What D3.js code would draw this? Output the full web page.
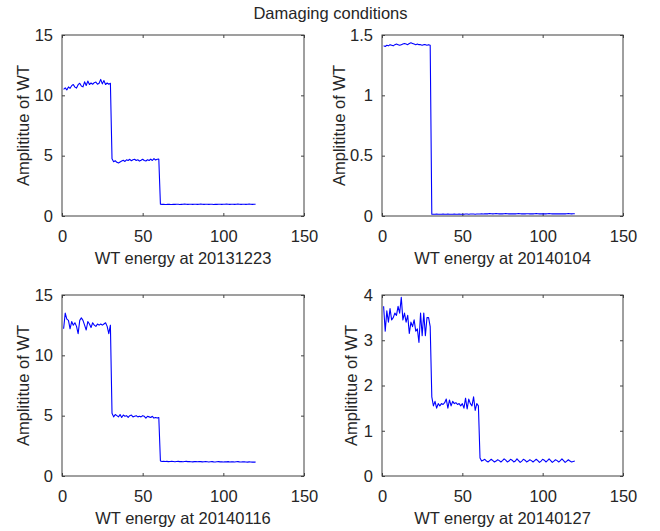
<!DOCTYPE html>
<html><head><meta charset="utf-8">
<script src="https://cdn.jsdelivr.net/npm/d3@7"></script>
<style>
html,body{margin:0;padding:0;background:#fff;}
text{font-family:"Liberation Sans",Arial,Helvetica,sans-serif;fill:#262626;}
</style></head>
<body><svg id="chart" width="660" height="531"></svg>
<script>
const title = "Damaging conditions";
const xTicks = [0, 50, 100, 150];
const xDomain = [0, 150];
const yLabel = "Amplititue of WT";
const xLabels = ["WT energy at 20131223", "WT energy at 20140104", "WT energy at 20140116", "WT energy at 20140127"];
const yTicksA = [0, 5, 10, 15], yTickLabelsA = ["0", "5", "10", "15"];
const yTicksB = [0, 0.5, 1, 1.5], yTickLabelsB = ["0", "0.5", "1", "1.5"];
const yTicksC = [0, 5, 10, 15], yTickLabelsC = ["0", "5", "10", "15"];
const yTicksD = [0, 1, 2, 3, 4], yTickLabelsD = ["0", "1", "2", "3", "4"];

const seriesA = [
 10.5,10.62,10.45,10.7,10.58,10.8,10.9,10.68,10.6,10.88,
 11.0,10.78,10.7,11.12,10.82,11.18,10.9,11.02,10.92,11.05,
 11.1,10.92,11.0,11.32,10.95,11.22,10.9,11.02,10.92,11.0,
 4.75,4.5,4.58,4.45,4.4,4.48,4.55,4.62,4.52,4.66,
 4.6,4.7,4.58,4.66,4.7,4.6,4.66,4.55,4.62,4.7,
 4.6,4.56,4.66,4.6,4.72,4.6,4.76,4.64,4.7,4.72,
 0.98,0.96,0.97,0.95,0.96,0.98,0.96,0.95,0.97,0.96,
 0.98,0.97,0.95,0.96,0.97,0.99,0.97,0.96,0.98,0.97,
 0.96,0.97,0.98,0.96,0.97,0.99,0.97,0.96,0.98,0.97,
 0.96,0.98,0.97,0.95,0.97,0.96,0.98,0.97,0.96,0.98,
 0.97,0.99,0.97,0.96,0.98,0.97,0.96,0.97,0.99,0.97,
 0.96,0.98,0.97,0.96,0.98,0.99,0.97,0.96,0.98,0.97];
const seriesB = [
 1.41,1.405,1.415,1.41,1.42,1.415,1.41,1.42,1.425,1.42,
 1.415,1.42,1.425,1.43,1.425,1.42,1.43,1.435,1.43,1.425,
 1.42,1.425,1.42,1.42,1.415,1.42,1.42,1.415,1.42,1.415,
 0.015,0.014,0.015,0.016,0.015,0.014,0.015,0.016,0.015,0.015,
 0.016,0.015,0.014,0.015,0.016,0.015,0.015,0.016,0.015,0.014,
 0.015,0.016,0.016,0.015,0.016,0.017,0.016,0.015,0.016,0.016,
 0.017,0.018,0.017,0.018,0.019,0.018,0.02,0.019,0.018,0.019,
 0.02,0.019,0.018,0.019,0.018,0.019,0.02,0.019,0.018,0.019,
 0.018,0.019,0.018,0.019,0.02,0.019,0.018,0.019,0.018,0.019,
 0.019,0.018,0.019,0.018,0.019,0.02,0.019,0.018,0.019,0.018,
 0.019,0.018,0.019,0.02,0.019,0.018,0.019,0.018,0.019,0.018,
 0.019,0.018,0.019,0.018,0.019,0.02,0.019,0.018,0.019,0.019];
const seriesC = [
 12.2,13.5,13.0,12.9,12.2,12.8,12.5,12.7,12.4,11.8,
 12.9,13.1,12.9,12.5,12.1,12.8,12.6,12.3,12.7,12.5,
 12.4,12.6,12.5,12.6,12.5,12.6,12.7,12.4,11.8,12.5,
 5.2,4.9,5.1,5.0,4.9,5.1,4.85,5.05,4.95,5.0,
 4.85,5.0,5.05,4.9,4.95,5.0,4.9,4.95,4.9,5.0,
 4.95,4.8,4.95,4.9,4.85,4.95,4.8,4.85,4.8,4.85,
 1.25,1.2,1.22,1.2,1.21,1.19,1.2,1.22,1.2,1.18,
 1.2,1.21,1.19,1.2,1.18,1.2,1.21,1.19,1.2,1.18,
 1.17,1.19,1.2,1.18,1.2,1.19,1.17,1.18,1.2,1.18,
 1.16,1.18,1.19,1.17,1.16,1.18,1.19,1.17,1.18,1.16,
 1.18,1.17,1.19,1.16,1.18,1.17,1.16,1.18,1.19,1.17,
 1.16,1.17,1.18,1.16,1.15,1.17,1.16,1.15,1.16,1.15];
const seriesD = [
 3.75,3.2,3.65,3.4,3.7,3.45,3.5,3.6,3.55,3.75,
 3.6,3.95,3.45,3.6,3.4,3.55,3.15,3.4,3.3,3.45,
 3.2,3.25,2.95,3.6,3.1,3.6,3.1,3.5,3.5,3.3,
 1.75,1.55,1.65,1.5,1.6,1.55,1.6,1.58,1.62,1.7,
 1.5,1.68,1.55,1.65,1.6,1.62,1.58,1.6,1.55,1.6,
 1.5,1.72,1.48,1.7,1.6,1.55,1.75,1.45,1.6,1.55,
 0.4,0.33,0.35,0.37,0.33,0.31,0.34,0.37,0.34,0.31,
 0.33,0.36,0.34,0.31,0.34,0.38,0.35,0.31,0.33,0.37,
 0.35,0.31,0.33,0.38,0.34,0.3,0.33,0.37,0.35,0.31,
 0.33,0.36,0.34,0.31,0.34,0.37,0.34,0.3,0.33,0.37,
 0.35,0.31,0.34,0.38,0.34,0.3,0.33,0.36,0.34,0.31,
 0.34,0.38,0.34,0.3,0.33,0.36,0.33,0.31,0.32,0.33];

const panels = [
  {series: seriesA, ticks: yTicksA, labels: yTickLabelsA, xl: xLabels[0], box: [62, 35, 304, 216], ylx: 28.5},
  {series: seriesB, ticks: yTicksB, labels: yTickLabelsB, xl: xLabels[1], box: [382, 35, 623, 216], ylx: 345},
  {series: seriesC, ticks: yTicksC, labels: yTickLabelsC, xl: xLabels[2], box: [62, 295, 304, 476], ylx: 28.5},
  {series: seriesD, ticks: yTicksD, labels: yTickLabelsD, xl: xLabels[3], box: [382, 295, 623, 476], ylx: 357}
];

const svg = d3.select("#chart");
const FS = 16.5;
const axisColor = "#404040";

svg.append("text").attr("x", 330.5).attr("y", 19).attr("text-anchor", "middle")
  .style("font-size", FS + "px").text(title);

panels.forEach(p => {
  const [l, t, r, b] = p.box;
  const x = d3.scaleLinear().domain(xDomain).range([l, r]);
  const yMax = p.ticks[p.ticks.length - 1];
  const y = d3.scaleLinear().domain([0, yMax]).range([b, t]);
  const g = svg.append("g");

  // x axis bottom (labels) and top (ticks only)
  const gxb = g.append("g").attr("transform", `translate(0,${b})`)
    .call(d3.axisBottom(x).tickValues(xTicks).tickFormat(d3.format("d")).tickSizeInner(-3).tickSizeOuter(0).tickPadding(14));
  const gxt = g.append("g").attr("transform", `translate(0,${t})`)
    .call(d3.axisTop(x).tickValues(xTicks).tickFormat("").tickSizeInner(-3).tickSizeOuter(0));
  const gyl = g.append("g").attr("transform", `translate(${l},0)`)
    .call(d3.axisLeft(y).tickValues(p.ticks).tickFormat((d, i) => p.labels[i]).tickSizeInner(-3).tickSizeOuter(0).tickPadding(9));
  const gyr = g.append("g").attr("transform", `translate(${r},0)`)
    .call(d3.axisRight(y).tickValues(p.ticks).tickFormat("").tickSizeInner(-3).tickSizeOuter(0));
  [gxb, gxt, gyl, gyr].forEach(a => {
    a.select(".domain").remove();
    a.selectAll(".tick line").attr("stroke", axisColor).attr("stroke-width", 1);
    a.selectAll(".tick text").style("font-size", FS + "px").attr("fill", "#262626")
      .style("font-family", '"Liberation Sans",Arial,sans-serif');
  });

  // data line
  const line = d3.line().x((d, i) => x(i + 1)).y(d => y(d));
  g.append("path").datum(p.series).attr("d", line)
    .attr("fill", "none").attr("stroke", "#0000ff").attr("stroke-width", 1.1)
    .attr("stroke-linejoin", "round");

  // box
  g.append("rect").attr("x", l).attr("y", t).attr("width", r - l).attr("height", b - t)
    .attr("fill", "none").attr("stroke", axisColor).attr("stroke-width", 1);

  // labels
  g.append("text").attr("x", (l + r) / 2).attr("y", b + 48).attr("text-anchor", "middle")
    .style("font-size", FS + "px").text(p.xl);
  g.append("text").attr("transform", `translate(${p.ylx},${(t + b) / 2}) rotate(-90)`)
    .attr("text-anchor", "middle").style("font-size", FS + "px").text(yLabel);
});
</script></body></html>
